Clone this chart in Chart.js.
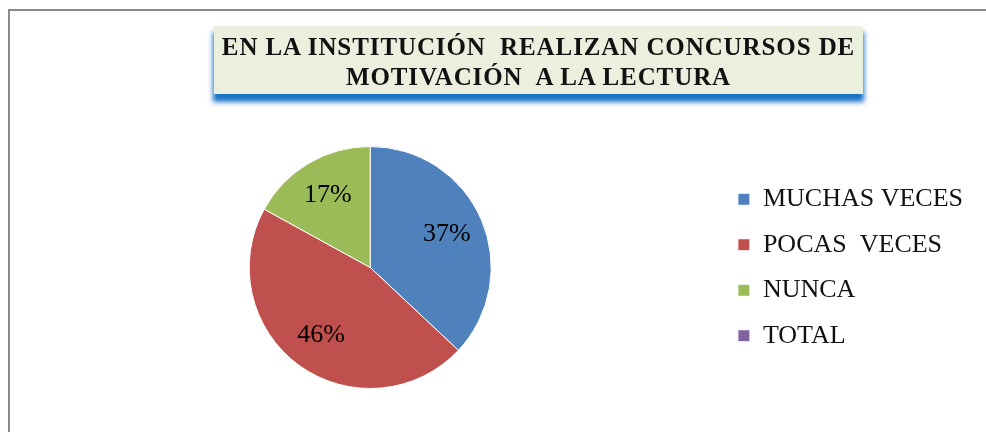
<!DOCTYPE html>
<html>
<head>
<meta charset="utf-8">
<script src="https://cdn.jsdelivr.net/npm/chart.js@4.4.0/dist/chart.umd.min.js"></script>
<style>
  html, body { margin: 0; padding: 0; background: #fff; overflow: hidden; }
  #wrap { position: relative; width: 986px; height: 432px; overflow: hidden; }
  #title {
    position: absolute; left: 214px; top: 26px; width: 649px; height: 68px;
    background: #ebf0de;
    box-shadow: 0 7px 5px 1px rgba(0, 100, 190, 0.9);
    font-family: 'Liberation Serif', 'Times New Roman', serif;
    font-weight: bold; font-size: 25px; line-height: 30px; letter-spacing: 0.9px;
    text-align: center; white-space: pre; color: #111;
    box-sizing: border-box; padding-top: 6px;
  }
  #chart { position: absolute; left: 0; top: 0; }
</style>
</head>
<body>
<div id="wrap">
  <canvas id="chart" width="986" height="432"></canvas>
  <div id="title">EN LA INSTITUCIÓN  REALIZAN CONCURSOS DE
MOTIVACIÓN  A LA LECTURA</div>
</div>
<script>
// chart data
const categories = ['MUCHAS VECES', 'POCAS  VECES', 'NUNCA', 'TOTAL'];
const percentValues = [37, 46, 17, 0];
const sliceColors = ['#4f81bd', '#c0504d', '#9bbb59', '#8064a2'];

// gray frame round the chart (left and top edges only are in view)
const frameLines = {
  id: 'frameLines',
  beforeDraw(chart) {
    const ctx = chart.ctx;
    ctx.save();
    ctx.fillStyle = '#8a8a8a';
    ctx.fillRect(8, 9, 2, chart.height);
    ctx.fillRect(8, 9, chart.width, 2);
    ctx.restore();
  }
};

// percent labels inside the slices
const sliceLabels = {
  id: 'sliceLabels',
  afterDatasetsDraw(chart) {
    const ctx = chart.ctx;
    const meta = chart.getDatasetMeta(0);
    ctx.save();
    ctx.font = '26px "Liberation Serif", "Times New Roman", serif';
    ctx.fillStyle = '#000';
    ctx.textAlign = 'center';
    ctx.textBaseline = 'middle';
    meta.data.forEach((arc, i) => {
      const v = percentValues[i];
      if (!v) return;
      const p = arc.getProps(['x', 'y', 'startAngle', 'endAngle', 'outerRadius']);
      const mid = (p.startAngle + p.endAngle) / 2;
      const r = p.outerRadius * 0.69;
      ctx.fillText(v + '%', p.x + Math.cos(mid) * r, p.y + Math.sin(mid) * r);
    });
    ctx.restore();
  }
};

new Chart(document.getElementById('chart'), {
  type: 'pie',
  data: {
    labels: categories,
    datasets: [{
      data: percentValues,
      backgroundColor: sliceColors,
      borderColor: '#ffffff',
      borderWidth: 1
    }]
  },
  options: {
    responsive: false,
    animation: false,
    layout: { padding: { top: 146, bottom: 43, left: 22, right: 13 } },
    plugins: {
      tooltip: { enabled: false },
      legend: {
        position: 'right',
        labels: {
          boxWidth: 12,
          boxHeight: 12,
          padding: 19.5,
          color: '#111',
          font: { family: '"Liberation Serif", "Times New Roman", serif', size: 26 }
        }
      }
    }
  },
  plugins: [frameLines, sliceLabels]
});
</script>
</body>
</html>
